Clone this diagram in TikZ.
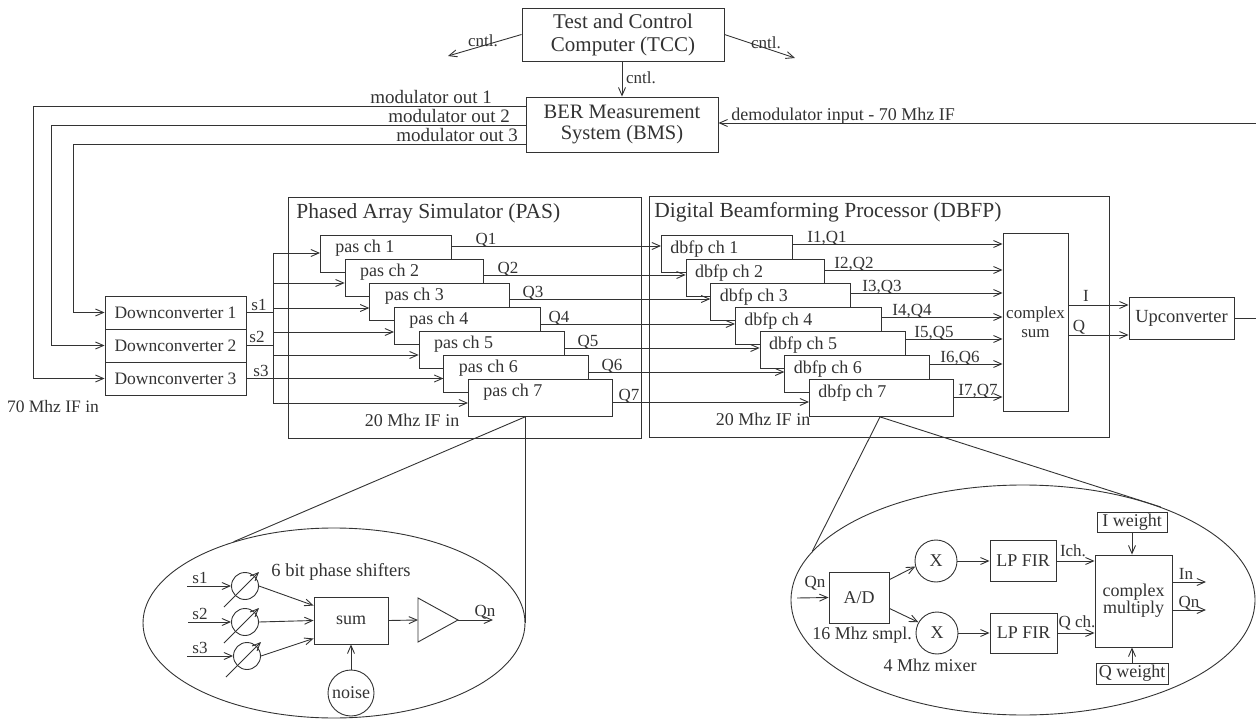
\documentclass[tikz,border=0pt]{standalone}
\usepackage{fontspec}
\setmainfont{Liberation Serif}
\usetikzlibrary{arrows.meta,shapes.geometric,calc}
\newcommand{\myfs}[1]{\fontsize{#1}{#1}\selectfont}
\begin{document}
\begin{tikzpicture}[x=1pt,y=-1pt,line width=0.9pt,color=black!80,
  bx/.style={draw,fill=white,inner sep=0pt,font=\myfs{18}},
  frame/.style={draw,inner sep=0pt,anchor=north west},
  arr/.style={-{Straight Barb[length=8pt,width=7pt]}},
  tx/.style={inner sep=0pt,font=\myfs{18}},
  lb/.style={inner sep=0pt,font=\myfs{17}},
  circ/.style={draw,circle,inner sep=0pt,font=\myfs{18}}]
\useasboundingbox (0,0) rectangle (1256,719);

% ---------- frames ----------
\node[frame,minimum width=353pt,minimum height=241pt] (pas) at (288,197) {};
\node[tx,font=\myfs{21.5},anchor=west] (pasT) at (296,213) {Phased Array Simulator (PAS)};
\node[frame,minimum width=460pt,minimum height=241pt] (dbfp) at (649,196) {};
\node[tx,font=\myfs{21.5},anchor=west] (dbfpT) at (654,212) {Digital Beamforming Processor (DBFP)};

% ---------- top ----------
\node[bx,minimum width=202pt,minimum height=53pt,align=center,font=\fontsize{21}{23}\selectfont] (tcc) at (623,34.5) {Test and Control\\Computer (TCC)};
\node[bx,minimum width=192pt,minimum height=55pt,align=center,font=\fontsize{20.5}{21}\selectfont] (bms) at (622,124.5) {BER Measurement\\System (BMS)};

\coordinate (cl) at (448,56);
\coordinate (cr) at (795,58);
\draw[arr] (tcc.west) -- (cl);
\draw[arr] (tcc.east) -- (cr);
\draw[arr] (tcc.south -| bms.north) -- (bms.north);
\node[lb] (c1) at (483,41) {cntl.};
\node[lb] (c2) at (766,43) {cntl.};
\node[lb] (c3) at (641,78) {cntl.};

\coordinate (dm) at (1256,123);
\draw[arr] (dm) -- (dm -| bms.east);
\node[tx,anchor=base west] (dml) at (731,121) {demodulator input - 70 Mhz IF};

% ---------- downconverters ----------
\node[bx,minimum width=141pt,minimum height=33pt,font=\myfs{17.5}] (dc1) at (175.5,312.5) {Downconverter 1};
\node[bx,minimum width=141pt,minimum height=33pt,font=\myfs{17.5}] (dc2) at (175.5,345.5) {Downconverter 2};
\node[bx,minimum width=141pt,minimum height=33pt,font=\myfs{17.5}] (dc3) at (175.5,378.5) {Downconverter 3};
\node[lb,font=\myfs{17.5}] (ifin) at (53,407) {70 Mhz IF in};

\coordinate (m1) at (33,106);
\coordinate (m2) at (51,125);
\coordinate (m3) at (73,144);
\draw[arr] (m1 -| bms.west) -- (m1) |- (dc3.west);
\draw[arr] (m2 -| bms.west) -- (m2) |- (dc2.west);
\draw[arr] (m3 -| bms.west) -- (m3) |- (dc1.west);
\node[lb,font=\myfs{19},anchor=base west] (ml1) at (370,104) {modulator out 1};
\node[lb,font=\myfs{19},anchor=base west] (ml2) at (388,123) {modulator out 2};
\node[lb,font=\myfs{19},anchor=base west] (ml3) at (396,142) {modulator out 3};

% ---------- complex sum / upconverter ----------
\node[bx,minimum width=65pt,minimum height=178pt,align=center,font=\fontsize{17}{19}\selectfont] (cs) at (1035.5,322) {complex\\sum};
\node[bx,minimum width=105pt,minimum height=42pt,font=\myfs{18.5}] (up) at (1181.5,318) {Upconverter};
\coordinate (iS) at ($(cs.east)+(0,-17)$);
\coordinate (qS) at ($(cs.east)+(0,13)$);
\draw[arr] (iS) -- (iS -| up.west);
\draw[arr] (qS) -- (qS -| up.west);
\node[lb] (il) at (1086,296) {I};
\node[lb] (ql) at (1079,327) {Q};
\coordinate (uo) at (1256,318);
\draw (up.east) -- (uo);

% ---------- channels ----------
\coordinate (pi1) at (273,253);
\coordinate (pi7) at (273,403);
\draw (pi1) -- (pi7);
\draw (dc1.east) -- (dc1.east -| pi1);
\draw (dc2.east) -- (dc2.east -| pi1);
\draw (dc3.east) -- (dc3.east -| pi1);
\node[lb] (s1l) at (259,305) {s1};
\node[lb] (s2l) at (257,337) {s2};
\node[lb] (s3l) at (261,371) {s3};

\foreach \k/\w/\py/\qy/\qx/\iy/\ix in {1/131/253/246/486/244/827, 2/138/283/275/508/270/854, 3/140/308/299/533/293/882, 4/146/332/324/559/317/912, 5/145/355/348/588/339/934, 6/145/378.5/372/612/364/960, 7/144/403/402/629/397/978}{
  \pgfmathsetmacro\L{320+24.67*(\k-1)}
  \pgfmathsetmacro\T{235+24*(\k-1)}
  \node[bx,anchor=north west,minimum width=\w pt,minimum height=37pt] (p\k) at (\L,\T) {};
  \node[tx,anchor=west] (pt\k) at ($(p\k.north west)+(15,13)$) {pas ch \k};
  \node[bx,anchor=north west,minimum width=\w pt,minimum height=37pt] (d\k) at ({\L+341},\T) {};
  \node[tx,anchor=west] (dt\k) at ($(d\k.north west)+(9,14)$) {dbfp ch \k};
  \coordinate (pin\k) at (273,\py);
  \draw[arr] (pin\k) -- (pin\k -| p\k.west);
  \coordinate (qs\k) at ($(p\k.north east)+(0,{\qy-\T})$);
  \draw[arr] (qs\k) -- (qs\k -| d\k.west);
  \node[lb,anchor=base] (qlab\k) at (\qx,{\qy-1.5}) {Q\k};
  \coordinate (is\k) at ($(d\k.north east)+(0,{\iy-\T})$);
  \draw[arr] (is\k) -- (is\k -| cs.west);
  \node[lb,anchor=base] (ilab\k) at (\ix,{\iy-1.5}) {I\k,Q\k};
}
\node[tx] (if1) at (412,420) {20 Mhz IF in};
\node[tx] (if2) at (763,419) {20 Mhz IF in};

% ---------- PAS detail ellipse ----------
\node[draw,ellipse,minimum width=382pt,minimum height=190pt,inner sep=0pt] (e1) at (334,623) {};
\coordinate (a1) at ($(p7.south west)+(57,0)$);
\draw (a1) -- (e1.141);
\draw (a1) -- (a1 |- e1.east);

\node[circ,minimum size=27pt] (ph1) at (245,586) {};
\node[circ,minimum size=27pt] (ph2) at (245,622) {};
\node[circ,minimum size=27pt] (ph3) at (247,656) {};
\foreach \n in {ph1,ph2,ph3}{
  \draw[arr] ($(\n)+(-21,21)$) -- ($(\n)+(14,-14)$);
}
\coordinate (si1) at (187,586);
\coordinate (si2) at (188,622);
\coordinate (si3) at (187,656);
\draw[arr] (si1) -- (ph1.west);
\draw[arr] (si2) -- (ph2.west);
\draw[arr] (si3) -- (ph3.west);
\node[lb,anchor=base] (ss1) at (200,583) {s1};
\node[lb,anchor=base] (ss2) at (200,619) {s2};
\node[lb,anchor=base] (ss3) at (200,653) {s3};
\node[tx,font=\myfs{18.5}] (psl) at (341,572) {6 bit phase shifters};

\node[bx,minimum width=74pt,minimum height=47pt] (sum) at (351,620.5) {sum};
\draw[arr] (ph1.east) -- ($(sum.west)+(0,-15)$);
\draw[arr] (ph2.east) -- (sum.west);
\draw[arr] (ph3.east) -- ($(sum.west)+(0,18)$);

\coordinate (aw) at (418,620);
\coordinate (ae) at (458,620);
\draw (418,598) -- (ae) -- (418,642) -- cycle;
\draw[arr] (sum.east) -- (aw);
\coordinate (qo) at (493,620);
\draw[arr] (ae) -- (qo);
\node[lb,anchor=base] (qnl) at (485,616) {Qn};

\node[circ,minimum size=46pt] (noise) at (351,693) {noise};
\draw[arr] (noise.north) -- (sum.south);

% ---------- DBFP detail ellipse ----------
\node[draw,ellipse,minimum width=464pt,minimum height=230pt,inner sep=0pt] (e2) at (1023,600) {};
\coordinate (a2) at ($(d7.south west)+(71,0)$);
\draw (a2) -- (e2.167);
\draw (a2) -- (e2.34);

\node[bx,minimum width=60pt,minimum height=51pt] (ad) at (859,597.5) {A/D};
\coordinate (qin) at (797,598);
\draw[arr] (qin) -- (ad.west);
\node[lb,anchor=base] (qinl) at (815,587) {Qn};
\node[tx] (smp) at (862,635) {16 Mhz smpl.};

\node[circ,minimum size=42pt] (mx1) at (936,561) {X};
\node[circ,minimum size=42pt] (mx2) at (937,633) {X};
\draw[arr] ($(ad.north east)+(0,8)$) -- (mx1.195);
\draw[arr] ($(ad.south east)+(0,-15)$) -- (mx2.150);
\node[tx] (mxl) at (930,665) {4 Mhz mixer};

\node[bx,minimum width=66pt,minimum height=41pt] (lp1) at (1023,561) {LP FIR};
\node[bx,minimum width=67pt,minimum height=40pt] (lp2) at (1023.5,633) {LP FIR};
\draw[arr] (mx1.east) -- (lp1.west);
\draw[arr] (mx2.east) -- (lp2.west);

\node[bx,minimum width=77pt,minimum height=92pt,align=center,font=\fontsize{18}{17}\selectfont] (cm) at (1133.5,601) {complex\\multiply};
\draw[arr] (lp1.east) -- (lp1.east -| cm.west);
\draw[arr] (lp2.east) -- (lp2.east -| cm.west);
\node[lb,anchor=base] (ichl) at (1073,556) {Ich.};
\node[lb,anchor=base] (qchl) at (1077,627) {Q ch.};

\node[bx,minimum width=70pt,minimum height=20pt] (iw) at (1132,522) {I weight};
\node[bx,minimum width=72pt,minimum height=21pt] (qw) at (1132,673.5) {Q weight};
\draw[arr] (iw.south) -- (iw.south |- cm.north);
\draw[arr] (qw.north) -- (qw.north |- cm.south);

\coordinate (io) at (1206,582);
\coordinate (qo2) at (1206,610);
\draw[arr] (io -| cm.east) -- (io);
\draw[arr] (qo2 -| cm.east) -- (qo2);
\node[lb,anchor=base] (inl) at (1186,579) {In};
\node[lb,anchor=base] (qnl2) at (1189,607) {Qn};
\end{tikzpicture}
\end{document}
